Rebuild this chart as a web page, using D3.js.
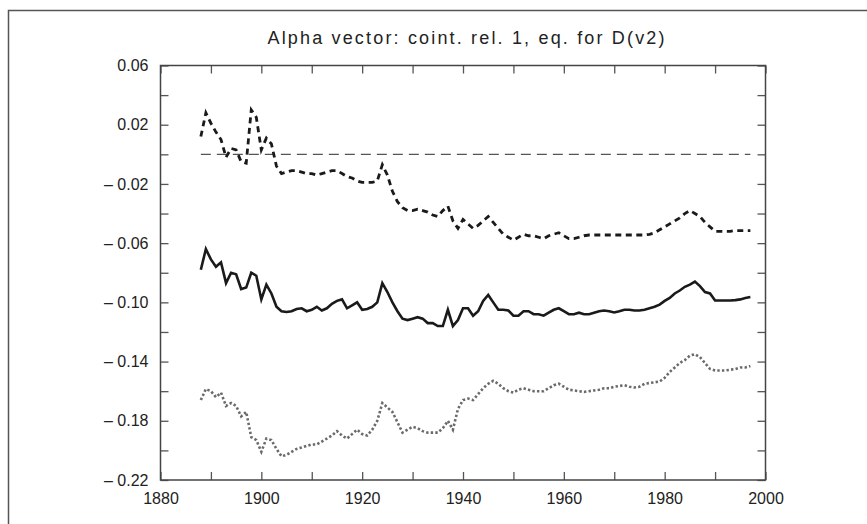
<!DOCTYPE html>
<html>
<head>
<meta charset="utf-8">
<script src="https://cdn.jsdelivr.net/npm/d3@7"></script>
<style>
  html, body { margin: 0; padding: 0; background: #fff; }
  svg { display: block; }
</style>
</head>
<body>
<svg id="chart" width="867" height="524"></svg>
<script>
// ---- data ----
const title = "Alpha vector: coint. rel. 1, eq. for D(v2)";
const startYear = 1888;
const years = d3.range(startYear, 1998);

const seriesDashed = [
  0.012, 0.028, 0.021, 0.015, 0.010, -0.002, 0.004, 0.003, -0.005, -0.006,
  0.030, 0.025, 0.003, 0.011, 0.007, -0.008, -0.013, -0.012, -0.011, -0.011,
  -0.012, -0.013, -0.013, -0.014, -0.013, -0.012, -0.011, -0.011, -0.013, -0.015,
  -0.016, -0.018, -0.019, -0.019, -0.019, -0.018, -0.007, -0.014, -0.025, -0.032,
  -0.036, -0.038, -0.038, -0.037, -0.038, -0.039, -0.041, -0.042, -0.038, -0.035,
  -0.045, -0.050, -0.044, -0.047, -0.050, -0.048, -0.045, -0.042, -0.046, -0.050,
  -0.054, -0.056, -0.058, -0.056, -0.054, -0.055, -0.055, -0.056, -0.057, -0.055,
  -0.054, -0.053, -0.055, -0.057, -0.057, -0.056, -0.055, -0.0545, -0.0545, -0.0545,
  -0.0545, -0.0545, -0.0545, -0.0545, -0.0545, -0.0545, -0.0545, -0.0545, -0.0545, -0.054,
  -0.053, -0.051, -0.049, -0.047, -0.045, -0.043, -0.040, -0.038, -0.040, -0.042,
  -0.046, -0.049, -0.052, -0.052, -0.052, -0.052, -0.0515, -0.0515, -0.0515, -0.0515
];

const seriesSolid = [
  -0.078, -0.064, -0.071, -0.076, -0.073, -0.087, -0.080, -0.081, -0.091, -0.090,
  -0.080, -0.082, -0.098, -0.088, -0.094, -0.103, -0.106, -0.1065, -0.106, -0.1045,
  -0.104, -0.106, -0.105, -0.103, -0.1055, -0.104, -0.101, -0.099, -0.098, -0.104,
  -0.102, -0.100, -0.105, -0.1045, -0.103, -0.100, -0.087, -0.093, -0.100, -0.106,
  -0.111, -0.112, -0.111, -0.110, -0.111, -0.114, -0.114, -0.116, -0.116, -0.105,
  -0.116, -0.112, -0.104, -0.104, -0.109, -0.106, -0.099, -0.095, -0.100, -0.105,
  -0.105, -0.1055, -0.109, -0.109, -0.106, -0.106, -0.108, -0.108, -0.109, -0.107,
  -0.105, -0.104, -0.106, -0.108, -0.108, -0.107, -0.108, -0.108, -0.107, -0.106,
  -0.1055, -0.106, -0.1068, -0.106, -0.105, -0.105, -0.1055, -0.1055, -0.105, -0.104,
  -0.103, -0.1015, -0.099, -0.097, -0.094, -0.092, -0.0895, -0.088, -0.086, -0.089,
  -0.093, -0.094, -0.0987, -0.0987, -0.0987, -0.0987, -0.0985, -0.098, -0.097, -0.0964
];

const seriesDotted = [
  -0.166, -0.1585, -0.160, -0.164, -0.161, -0.170, -0.168, -0.170, -0.177, -0.174,
  -0.191, -0.193, -0.201, -0.192, -0.193, -0.199, -0.204, -0.203, -0.201, -0.199,
  -0.198, -0.197, -0.196, -0.196, -0.194, -0.192, -0.190, -0.187, -0.190, -0.192,
  -0.189, -0.186, -0.189, -0.190, -0.186, -0.180, -0.168, -0.171, -0.174, -0.181,
  -0.188, -0.186, -0.184, -0.185, -0.187, -0.188, -0.188, -0.188, -0.185, -0.180,
  -0.186, -0.172, -0.166, -0.165, -0.166, -0.162, -0.158, -0.155, -0.153, -0.155,
  -0.158, -0.160, -0.161, -0.159, -0.158, -0.159, -0.160, -0.160, -0.160, -0.158,
  -0.156, -0.155, -0.157, -0.159, -0.1595, -0.160, -0.1605, -0.160, -0.1595, -0.159,
  -0.158, -0.158, -0.157, -0.1565, -0.156, -0.157, -0.1575, -0.157, -0.155, -0.1545,
  -0.154, -0.1535, -0.151, -0.147, -0.144, -0.141, -0.139, -0.136, -0.135, -0.137,
  -0.141, -0.145, -0.146, -0.146, -0.146, -0.1455, -0.145, -0.144, -0.144, -0.143
];

const zeroLine = [0, 0];
const zeroYears = [1888, 1997];

const yTickValues = [0.06, 0.02, -0.02, -0.06, -0.10, -0.14, -0.18, -0.22];
const yMinorTicks = [0.06, 0.04, 0.02, 0, -0.02, -0.04, -0.06, -0.08, -0.10, -0.12, -0.14, -0.16, -0.18, -0.20, -0.22];
const xTickValues = [1880, 1900, 1920, 1940, 1960, 1980, 2000];
const xMinorTicks = [1880, 1890, 1900, 1910, 1920, 1930, 1940, 1950, 1960, 1970, 1980, 1990, 2000];

(function () {
// ---- layout ----
const svg = d3.select("#chart");
const pLeft = 160.5, pRight = 765.5, pTop = 65.5, pBottom = 480;
const FONT = "'Liberation Sans', Arial, Helvetica, sans-serif";
const TITLE_FONT = "'Liberation Sans Narrow', 'Arial Narrow', 'Liberation Sans', Arial, sans-serif";

const x = d3.scaleLinear().domain([1880, 2000]).range([pLeft, pRight]);
const y = d3.scaleLinear().domain([-0.22, 0.06]).range([pBottom, pTop]);

// outer frame
svg.append("rect")
  .attr("x", 8.5).attr("y", 10.5).attr("width", 900).attr("height", 600)
  .attr("fill", "none").attr("stroke", "#555").attr("stroke-width", 1.5);

// title
svg.append("text")
  .attr("x", 466).attr("y", 43.5)
  .attr("text-anchor", "middle")
  .attr("font-family", TITLE_FONT).attr("font-size", 18)
  .attr("fill", "#222")
  .attr("textLength", 397).attr("lengthAdjust", "spacing")
  .text(title);

// axes (ticks inward)
const tickLen = 8;
const fmtY = v => {
  const s = Math.abs(v).toFixed(2);
  return v < 0 ? "\u2013 " + s : s;
};

const gL = svg.append("g").attr("transform", `translate(${pLeft},0)`)
  .call(d3.axisRight(y).tickValues(yMinorTicks).tickSize(tickLen).tickFormat(""));
const gR = svg.append("g").attr("transform", `translate(${pRight},0)`)
  .call(d3.axisLeft(y).tickValues(yMinorTicks).tickSize(tickLen).tickFormat(""));
const gB = svg.append("g").attr("transform", `translate(0,${pBottom})`)
  .call(d3.axisTop(x).tickValues(xMinorTicks).tickSize(tickLen).tickFormat(""));
const gT = svg.append("g").attr("transform", `translate(0,${pTop})`)
  .call(d3.axisBottom(x).tickValues(xMinorTicks).tickSize(tickLen).tickFormat(""));
[gL, gR, gB, gT].forEach(g => {
  g.select(".domain").remove();
  g.selectAll(".tick line").attr("stroke", "#555").attr("stroke-width", 1.3);
});

// labels via axes without lines
const gLab = svg.append("g").attr("transform", `translate(${pLeft},0)`)
  .call(d3.axisLeft(y).tickValues(yTickValues).tickSize(0).tickPadding(12).tickFormat(fmtY));
gLab.select(".domain").remove();
gLab.selectAll("text").attr("font-family", FONT).attr("font-size", 16).attr("fill", "#222");

const gXLab = svg.append("g").attr("transform", `translate(0,${pBottom})`)
  .call(d3.axisBottom(x).tickValues(xTickValues).tickSize(0).tickPadding(13).tickFormat(d3.format("d")));
gXLab.select(".domain").remove();
gXLab.selectAll("text").attr("font-family", FONT).attr("font-size", 16).attr("fill", "#222");

// plot frame
svg.append("rect")
  .attr("x", pLeft).attr("y", pTop).attr("width", pRight - pLeft).attr("height", pBottom - pTop)
  .attr("fill", "none").attr("stroke", "#444").attr("stroke-width", 1.5);

// zero reference line
const line = d3.line().x(d => x(d[0])).y(d => y(d[1]));
svg.append("path")
  .datum(zeroYears.map((yr, i) => [yr, zeroLine[i]]))
  .attr("d", line)
  .attr("fill", "none").attr("stroke", "#555").attr("stroke-width", 1.3)
  .attr("stroke-dasharray", "10,6");

// series
function addSeries(vals, color, width, dash) {
  svg.append("path")
    .datum(years.map((yr, i) => [yr, vals[i]]))
    .attr("d", line)
    .attr("fill", "none").attr("stroke", color).attr("stroke-width", width)
    .attr("stroke-linejoin", "miter")
    .attr("stroke-dasharray", dash);
}
addSeries(seriesDashed, "#1a1a1a", 2.8, "6,4.5");
addSeries(seriesSolid, "#1a1a1a", 2.6, null);
addSeries(seriesDotted, "#6a6a6a", 2.6, "2.4,2.2");
})();
</script>
</body>
</html>
